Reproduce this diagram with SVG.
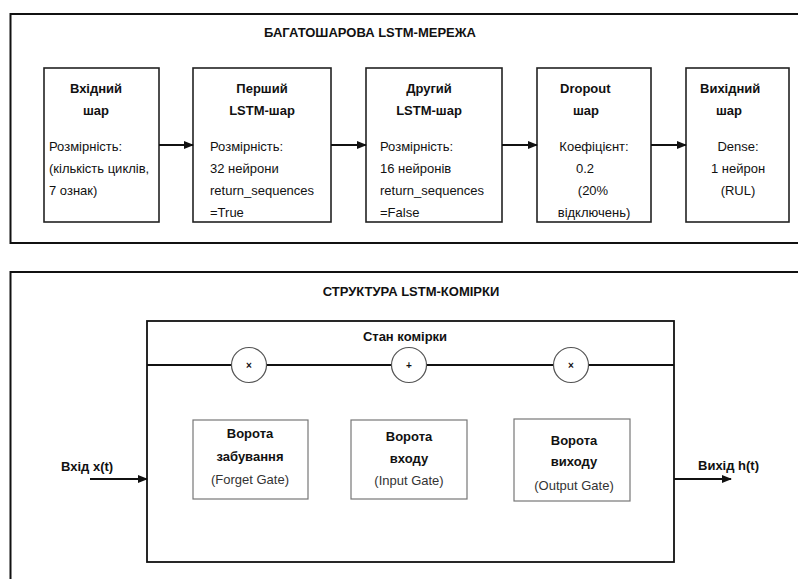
<svg xmlns="http://www.w3.org/2000/svg" width="798" height="579" viewBox="0 0 798 579">
<defs>
<style>
text{font-family:"Liberation Sans",Arial,sans-serif;font-size:13px;fill:#111}
.b{font-weight:bold}
.c{text-anchor:middle}
.g{fill:#333}
.frame{fill:none;stroke:#111;stroke-width:2}
.box{fill:#fff;stroke:#222;stroke-width:1.6}
.gate{fill:#fff;stroke:#777;stroke-width:1.2}
.circ{fill:#fff;stroke:#555;stroke-width:1.2}
.ln{stroke:#111;stroke-width:1.8;fill:none}
.sym{font-size:10px;font-weight:bold}
</style>
<marker id="ah" markerWidth="10" markerHeight="8" refX="9" refY="4" orient="auto" markerUnits="userSpaceOnUse">
<path d="M0,0 L10,4 L0,8 Z" fill="#111"/>
</marker>
</defs>
<rect width="798" height="579" fill="#fff"/>

<g id="top-panel">
<path class="frame" d="M805,14 H10.5 V243 H805"/>
<text class="b c" x="370" y="37">БАГАТОШАРОВА LSTM-МЕРЕЖА</text>
</g>

<g id="input-layer">
<rect class="box" x="44" y="68" width="115" height="154"/>
<text class="b c" x="96" y="93">Вхідний</text>
<text class="b c" x="96" y="115">шар</text>
<text x="49" y="151">Розмірність:</text>
<text x="49" y="173">(кількість циклів,</text>
<text x="49" y="195">7 ознак)</text>
</g>

<g id="lstm1">
<rect class="box" x="193" y="68" width="138" height="154"/>
<text class="b c" x="262" y="93">Перший</text>
<text class="b c" x="262" y="115">LSTM-шар</text>
<text x="210" y="151">Розмірність:</text>
<text x="210" y="173">32 нейрони</text>
<text x="210" y="195">return_sequences</text>
<text x="210" y="217">=True</text>
</g>

<g id="lstm2">
<rect class="box" x="366" y="68" width="136" height="154"/>
<text class="b c" x="429" y="93">Другий</text>
<text class="b c" x="429" y="115">LSTM-шар</text>
<text x="380" y="151">Розмірність:</text>
<text x="380" y="173">16 нейронів</text>
<text x="380" y="195">return_sequences</text>
<text x="380" y="217">=False</text>
</g>

<g id="dropout">
<rect class="box" x="537" y="68" width="114" height="154"/>
<text class="b" x="560" y="93">Dropout</text>
<text class="b" x="573" y="115">шар</text>
<text class="c" x="594" y="151">Коефіцієнт:</text>
<text class="c" x="585" y="173">0.2</text>
<text class="c" x="593" y="195">(20%</text>
<text class="c" x="594" y="217">відключень)</text>
</g>

<g id="output-layer">
<rect class="box" x="686" y="68" width="103" height="154"/>
<text class="b" x="700" y="93">Вихідний</text>
<text class="b" x="716" y="115">шар</text>
<text class="c" x="738" y="151">Dense:</text>
<text class="c" x="738" y="173">1 нейрон</text>
<text class="c" x="738" y="195">(RUL)</text>
</g>

<g id="bottom-panel">
<path class="frame" d="M805,272 H10.5 V590"/>
<text class="b c" x="411" y="296">СТРУКТУРА LSTM-КОМІРКИ</text>
</g>

<g id="cell">
<rect class="box" x="147" y="321" width="527" height="241" style="stroke:#111;stroke-width:1.8"/>
<text class="b c" x="405" y="341">Стан комірки</text>
</g>

<g id="connectors">
<line class="ln" x1="159" y1="145" x2="193" y2="145" marker-end="url(#ah)"/>
<line class="ln" x1="331" y1="145" x2="366" y2="145" marker-end="url(#ah)"/>
<line class="ln" x1="502" y1="145" x2="537" y2="145" marker-end="url(#ah)"/>
<line class="ln" x1="651" y1="145" x2="686" y2="145" marker-end="url(#ah)"/>
<line class="ln" x1="147" y1="365" x2="674" y2="365"/>
<line class="ln" x1="90" y1="479" x2="147" y2="479" marker-end="url(#ah)"/>
<line class="ln" x1="674" y1="479" x2="731" y2="479" marker-end="url(#ah)"/>
</g>

<g id="op-forget">
<circle class="circ" cx="249" cy="365" r="17.5"/>
<text class="sym c" x="249" y="369">×</text>
</g>
<g id="op-add">
<circle class="circ" cx="409" cy="365" r="17.5"/>
<text class="sym c" x="409" y="369">+</text>
</g>
<g id="op-output">
<circle class="circ" cx="571" cy="365" r="17.5"/>
<text class="sym c" x="571" y="369">×</text>
</g>

<g id="forget-gate">
<rect class="gate" x="193" y="420" width="115" height="79"/>
<text class="b c" x="250" y="438">Ворота</text>
<text class="b c" x="250" y="461">забування</text>
<text class="c g" x="250" y="484">(Forget Gate)</text>
</g>

<g id="input-gate">
<rect class="gate" x="351" y="420" width="116" height="79"/>
<text class="b c" x="409" y="441">Ворота</text>
<text class="b c" x="409" y="463">входу</text>
<text class="c g" x="409" y="485">(Input Gate)</text>
</g>

<g id="output-gate">
<rect class="gate" x="514" y="419" width="116" height="82"/>
<text class="b c" x="574" y="445">Ворота</text>
<text class="b c" x="574" y="466">виходу</text>
<text class="c g" x="574" y="490">(Output Gate)</text>
</g>

<g id="labels">
<text class="b" x="61" y="471">Вхід x(t)</text>
<text class="b" x="698" y="470">Вихід h(t)</text>
</g>
</svg>
